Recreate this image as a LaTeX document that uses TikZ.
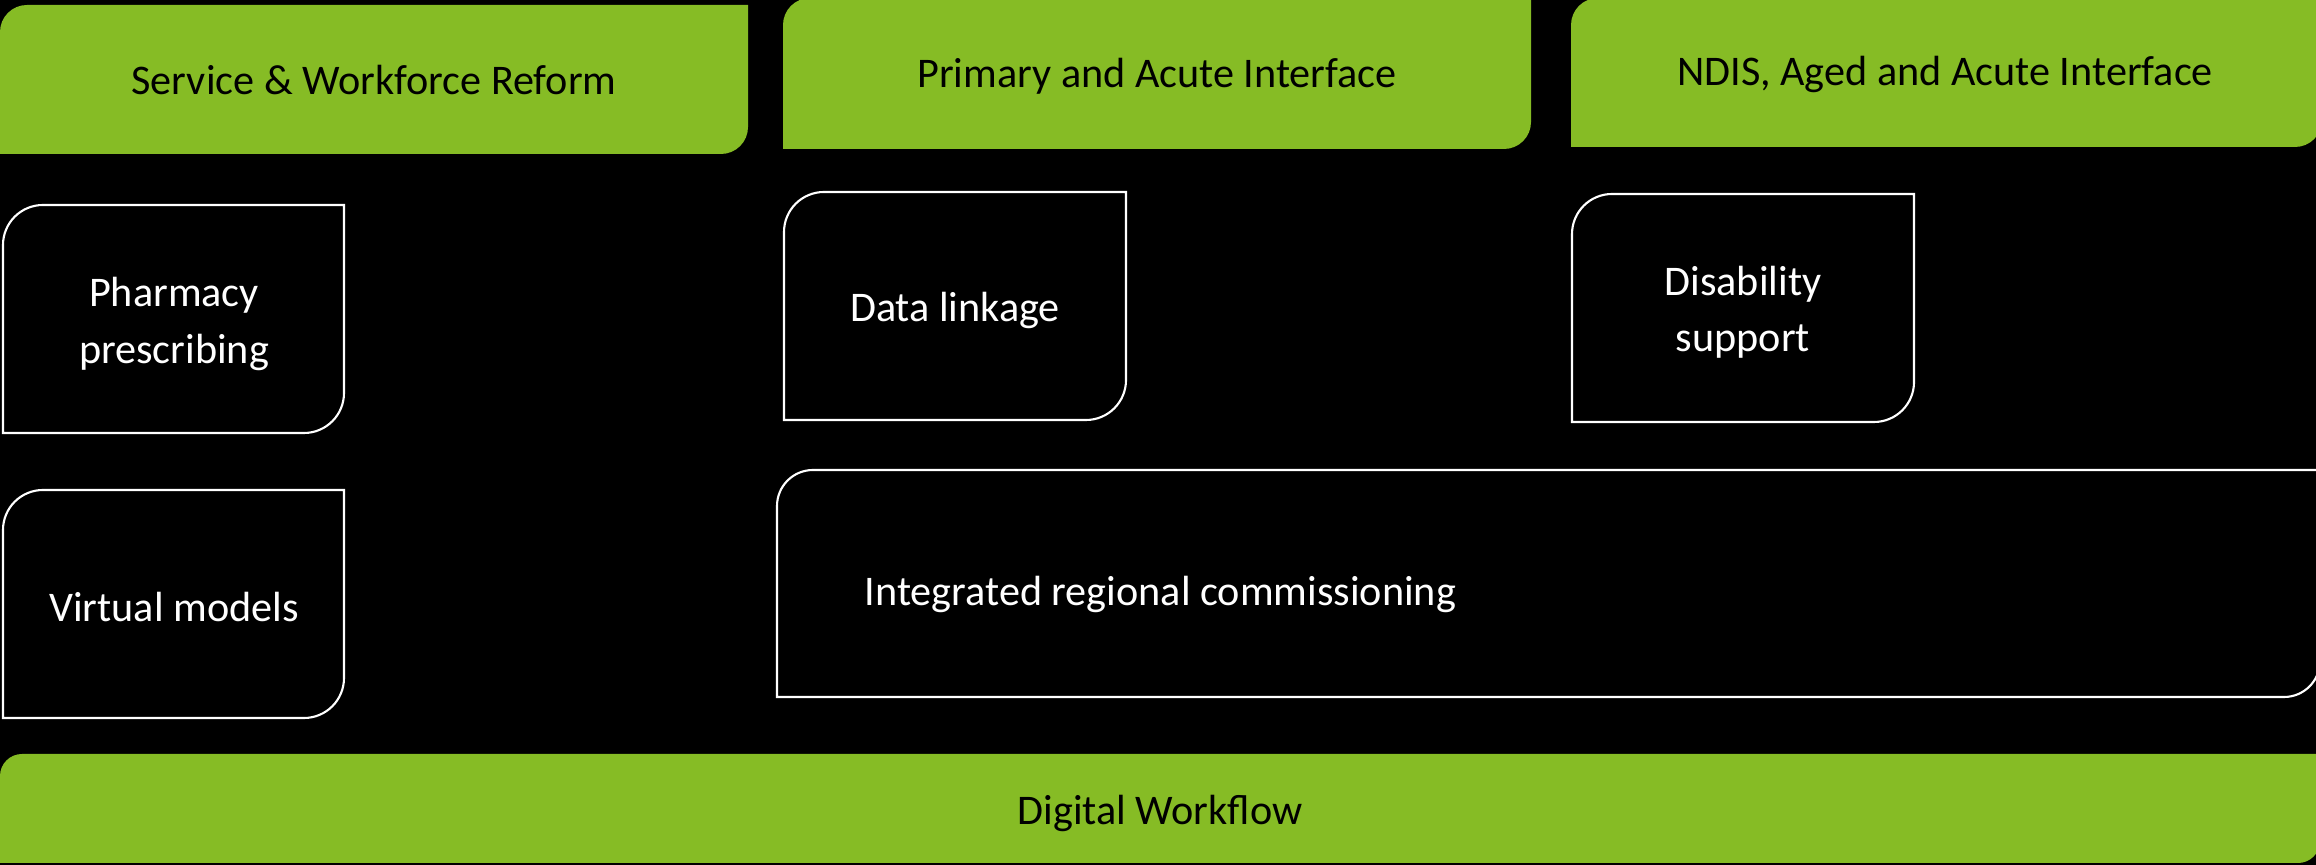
\documentclass[tikz,border=0pt]{standalone}
\usepackage{fontspec}
\setmainfont{Carlito}
\usepackage{tikz}

\definecolor{wfgreen}{RGB}{134,188,37}

\tikzset{
  greenbar/.style={fill=wfgreen},
  whitecard/.style={draw=white,line width=0.6pt},
  bartext/.style={font=\fontsize{12}{16}\selectfont,text=black,inner sep=0pt},
  cardtext/.style={font=\fontsize{12}{16}\selectfont,text=white,align=center,inner sep=0pt}
}

% left, top, right, bottom, radius (in px, y downwards)
\newcommand\diagbox[6]{%
  \path[#1] (#2,#5) -- ({#4-#6},#5) arc[start angle=-90,end angle=0,radius=#6*0.01cm]
    -- (#4,#3) -- ({#2+#6},#3) arc[start angle=90,end angle=180,radius=#6*0.01cm] -- cycle;}

\begin{document}
\begin{tikzpicture}[x=0.01cm,y=-0.01cm]
        \useasboundingbox (0,0) rectangle (2316,865);
        \fill [black] (0,0) rectangle (2316,865);

        \diagbox{greenbar}{0}{5}{748}{154}{27}
        \diagbox{greenbar}{783}{-2}{1531}{149}{27}
        \diagbox{greenbar}{1571}{-2}{2322}{147}{27}
        \diagbox{greenbar}{0}{754}{2320}{863}{22}

        \diagbox{whitecard}{3}{205}{344}{433}{40}
        \diagbox{whitecard}{3}{490}{344}{718}{40}
        \diagbox{whitecard}{784}{192}{1126}{420}{40}
        \diagbox{whitecard}{1572}{194}{1914}{422}{40}
        \diagbox{whitecard}{777}{470}{2320}{697}{36}

        \node [bartext] (reform) at (374,80) {Service \& Workforce Reform};
        \node [bartext] (primary) at (1157,76) {Primary and Acute Interface};
        \node [bartext] (ndis) at (1945,74) {NDIS, Aged and Acute Interface};
        \node [bartext] (digital) at (1160,813) {Digital Workflow};

        \node [cardtext] (pharmacy) at (174,324) {Pharmacy\\prescribing};
        \node [cardtext] (virtual) at (174,607) {Virtual models};
        \node [cardtext] (linkage) at (955,310) {Data linkage};
        \node [cardtext] (disability) at (1743,312) {Disability\\support};
        \node [cardtext,anchor=base west] (commissioning) at (864,606) {Integrated regional commissioning};
\end{tikzpicture}
\end{document}
